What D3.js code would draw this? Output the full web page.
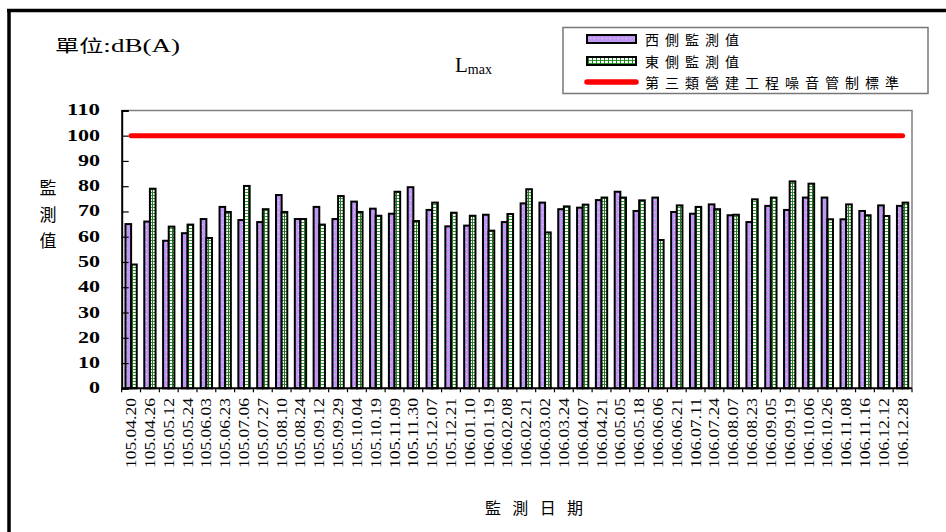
<!DOCTYPE html>
<html><head><meta charset="utf-8">
<script src="https://cdn.jsdelivr.net/npm/d3@7"></script>
<style>body{margin:0;background:#fff}svg{display:block}</style>
</head><body>
<svg id="c" width="946" height="532"></svg>
<script>
const categories = ["105.04.20","105.04.26","105.05.12","105.05.24","105.06.03","105.06.23","105.07.06","105.07.27","105.08.10","105.08.24","105.09.12","105.09.29","105.10.04","105.10.19","105.11.09","105.11.30","105.12.07","105.12.21","106.01.10","106.01.19","106.02.08","106.02.21","106.03.02","106.03.24","106.04.07","106.04.21","106.05.05","106.05.18","106.06.06","106.06.21","106.07.11","106.07.24","106.08.07","106.08.23","106.09.05","106.09.19","106.10.06","106.10.26","106.11.08","106.11.16","106.12.12","106.12.28"];
const westValues = [65,66,58.4,61.4,67,71.8,66.6,65.8,76.5,67,71.8,67,73.9,71.1,69.1,79.6,70.6,64.1,64.4,68.7,65.8,73.2,73.5,70.9,71.5,74.5,77.8,70.2,75.5,69.8,69.1,72.8,68.5,65.8,72.2,70.6,75.5,75.5,66.9,70.2,72.4,72.2];
const eastValues = [49,79,64,64.8,59.5,69.8,80.1,70.9,69.8,67,64.8,76.1,69.8,68.3,77.8,66.2,73.5,69.5,68.3,62.4,69,78.8,61.7,72,72.7,75.5,75.5,74.4,58.7,72.4,71.8,70.9,68.7,74.8,75.5,81.9,81,66.9,72.8,68.5,68.2,73.5];
const standardValue = 100;
const yTicks = [0,10,20,30,40,50,60,70,80,90,100,110];
const seriesNames = ["西側監測值","東側監測值","第三類營建工程噪音管制標準"];

const svg = d3.select("#c");
const serif = "Liberation Serif, DejaVu Serif, serif";
const cjk = "Noto Sans CJK TC, Noto Sans CJK SC, sans-serif";

// patterns
const defs = svg.append("defs");
const pw = defs.append("pattern").attr("id","pw").attr("patternUnits","userSpaceOnUse").attr("width",4).attr("height",6);
pw.append("rect").attr("width",4).attr("height",6).attr("fill","#bf98f4");
pw.append("rect").attr("x",2).attr("y",2).attr("width",1).attr("height",1).attr("fill","#e6d8fb");
const pe = defs.append("pattern").attr("id","pe").attr("patternUnits","userSpaceOnUse").attr("width",4).attr("height",3);
pe.append("rect").attr("width",4).attr("height",3).attr("fill","#ffffff");
pe.append("rect").attr("width",4).attr("height",1).attr("fill","#2e9a2e");
pe.append("rect").attr("width",1).attr("height",3).attr("fill","#1f7f1f");

// outer frame
svg.append("line").attr("x1",7).attr("x2",946).attr("y1",10.5).attr("y2",10.5).attr("stroke","#000").attr("stroke-width",3.5);
svg.append("line").attr("x1",9).attr("x2",9).attr("y1",9).attr("y2",532).attr("stroke","#000").attr("stroke-width",3.5);

const L = 121.7, R = 912, T = 110.4, B = 388.3;
const x = d3.scaleBand().domain(categories).range([L,R]).paddingInner(0.4).paddingOuter(0.2);
const x1 = d3.scaleBand().domain(["w","e"]).range([0,x.bandwidth()]);
const y = d3.scaleLinear().domain([0,110]).range([B,T]);

// plot border (top/right gray)
svg.append("path").attr("d",`M${L},${T}H${R}V${B}`).attr("fill","none").attr("stroke","#808080").attr("stroke-width",1.5);

// bars
const g = svg.append("g");
g.selectAll("rect.w").data(categories).join("rect").attr("class","w")
 .attr("x",d=>x(d)+x1("w")).attr("width",x1.bandwidth())
 .attr("y",(d,i)=>y(westValues[i])).attr("height",(d,i)=>y(0)-y(westValues[i]))
 .attr("fill","url(#pw)").attr("stroke","#000").attr("stroke-width",2);
g.selectAll("rect.e").data(categories).join("rect").attr("class","e")
 .attr("x",d=>x(d)+x1("e")).attr("width",x1.bandwidth())
 .attr("y",(d,i)=>y(eastValues[i])).attr("height",(d,i)=>y(0)-y(eastValues[i]))
 .attr("fill","url(#pe)").attr("stroke","#000").attr("stroke-width",2);

// standard line
const cx = d=>x(d)+x.bandwidth()/2;
svg.append("line").attr("x1",cx(categories[0])).attr("x2",cx(categories[categories.length-1]))
 .attr("y1",y(standardValue)).attr("y2",y(standardValue))
 .attr("stroke","#ff0000").attr("stroke-width",5).attr("stroke-linecap","round");

// y axis
const ya = svg.append("g").attr("transform",`translate(${L},0)`)
 .call(d3.axisLeft(y).tickValues(yTicks).tickSize(-7).tickFormat(""));
ya.select(".domain").attr("stroke","#000").attr("stroke-width",2);
ya.selectAll(".tick line").attr("stroke","#000").attr("stroke-width",1.2);
svg.append("g").selectAll("text").data(yTicks).join("text")
 .attr("x",100).attr("y",d=>y(d)+5).attr("text-anchor","end")
 .attr("font-family",serif).attr("font-size",16).attr("font-weight","bold")
 .attr("textLength",d=>String(d).length*11).attr("lengthAdjust","spacingAndGlyphs")
 .text(d=>d);

// x axis
svg.append("line").attr("x1",L).attr("x2",R).attr("y1",B).attr("y2",B).attr("stroke","#000").attr("stroke-width",2);
const bounds = categories.map((d,i)=>x(d)-x.step()*x.paddingInner()/2).concat([R]);
svg.append("g").selectAll("line").data(bounds).join("line")
 .attr("x1",d=>d).attr("x2",d=>d).attr("y1",B).attr("y2",B+4).attr("stroke","#000").attr("stroke-width",1.2);
svg.append("g").selectAll("text").data(categories).join("text")
 .attr("transform",d=>`translate(${cx(d)+5},398) rotate(-90)`)
 .attr("text-anchor","end").attr("font-family",serif).attr("font-size",14)
 .attr("textLength",70).attr("lengthAdjust","spacingAndGlyphs")
 .text(d=>d);

// titles
const ut = svg.append("text").attr("x",55).attr("y",52).attr("font-size",17)
 .attr("textLength",125).attr("lengthAdjust","spacingAndGlyphs");
ut.append("tspan").attr("font-family",cjk).text("單位");
ut.append("tspan").attr("font-family",serif).attr("font-size",19).text(":dB(A)");
const lt = svg.append("text").attr("x",455).attr("y",72).attr("font-family",serif);
lt.append("tspan").attr("font-size",21).text("L");
lt.append("tspan").attr("font-size",14).attr("dy",2).text("max");
["監","測","值"].forEach((c,i)=>{
  svg.append("text").attr("x",48).attr("y",194+i*26.5).attr("text-anchor","middle")
   .attr("font-family",cjk).attr("font-size",17).text(c);
});
svg.append("text").attr("x",534).attr("y",514).attr("text-anchor","middle").attr("font-family",cjk)
 .attr("font-size",16).attr("textLength",98).attr("lengthAdjust","spacing").text("監測日期");

// legend
svg.append("rect").attr("x",563).attr("y",27.5).attr("width",365).attr("height",66)
 .attr("fill","#fff").attr("stroke","#777").attr("stroke-width",1.5);
const lg = svg.append("g");
lg.append("rect").attr("x",587).attr("y",35).attr("width",49).attr("height",8).attr("fill","url(#pw)").attr("stroke","#000").attr("stroke-width",2);
lg.append("rect").attr("x",587).attr("y",57).attr("width",49).attr("height",8).attr("fill","url(#pe)").attr("stroke","#000").attr("stroke-width",2);
lg.append("line").attr("x1",587).attr("x2",636).attr("y1",82).attr("y2",82).attr("stroke","#ff0000").attr("stroke-width",5.5).attr("stroke-linecap","round");
lg.selectAll("text").data(seriesNames).join("text")
 .attr("x",645).attr("y",(d,i)=>45+i*21.5).attr("font-family",cjk).attr("font-size",14)
 .attr("textLength",d=>d.length*20-6).attr("lengthAdjust","spacing").text(d=>d);
</script>
</body></html>
